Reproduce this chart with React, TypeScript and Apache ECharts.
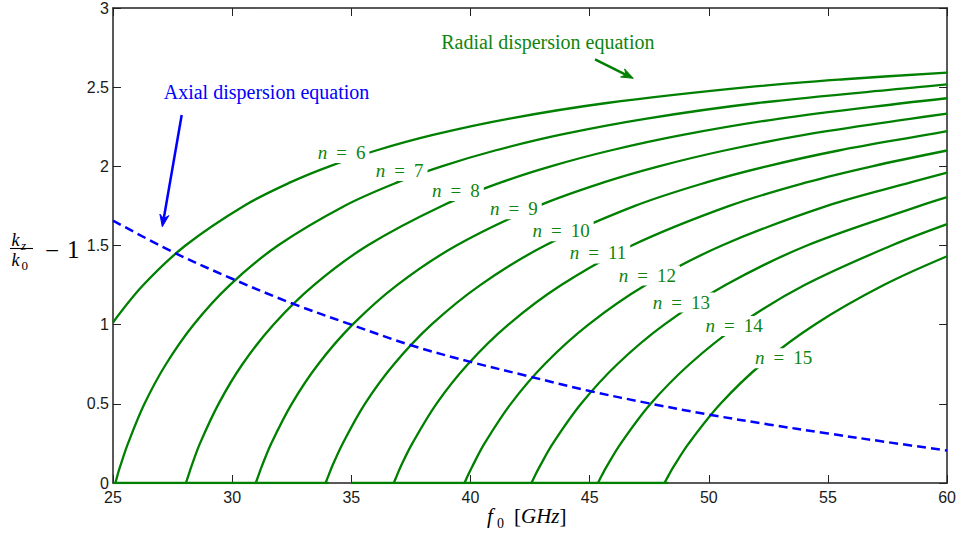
import React, { useEffect, useRef } from "react";
import * as echarts from "echarts";

// ---- axes ----
const xMin = 25;
const xMax = 60;
const xStep = 5;
const yMin = 0;
const yMax = 3;
const yStep = 0.5;

// ---- radial dispersion curves [f0 (GHz), kz/k0 - 1] ----
const n6 = [[25, 1.014], [26.27, 1.25], [28.04, 1.5], [30.49, 1.75], [32.46, 1.9], [34.08, 2.0], [36.04, 2.1], [38.47, 2.2], [41.58, 2.3], [45.72, 2.4], [51.63, 2.5], [55.69, 2.55], [60, 2.592]];
const n7 = [[25.1, 0], [25.19, 0.05], [25.29, 0.1], [25.63, 0.25], [26.32, 0.5], [27.22, 0.75], [28.38, 1], [29.9, 1.25], [31.92, 1.5], [34.71, 1.75], [36.95, 1.9], [38.79, 2], [41.03, 2.1], [43.79, 2.2], [47.33, 2.3], [52.05, 2.4], [58.77, 2.5], [60, 2.517]];
const n8 = [[28.06, 0], [28.17, 0.05], [28.28, 0.1], [28.65, 0.25], [29.43, 0.5], [30.43, 0.75], [31.73, 1], [33.43, 1.25], [35.68, 1.5], [38.8, 1.75], [41.31, 1.9], [43.37, 2], [45.87, 2.1], [48.96, 2.2], [52.91, 2.3], [58.19, 2.4], [60, 2.43]];
const n9 = [[30.99, 0], [31.11, 0.05], [31.23, 0.1], [31.64, 0.25], [32.5, 0.5], [33.61, 0.75], [35.05, 1], [36.92, 1.25], [39.41, 1.5], [42.85, 1.75], [45.62, 1.9], [47.9, 2], [50.66, 2.1], [54.07, 2.2], [58.44, 2.3], [60, 2.333]];
const n10 = [[33.92, 0], [34.05, 0.05], [34.18, 0.1], [34.64, 0.25], [35.57, 0.5], [36.79, 0.75], [38.36, 1], [40.41, 1.25], [43.13, 1.5], [46.9, 1.75], [49.93, 1.9], [52.43, 2], [55.45, 2.1], [59.18, 2.2], [60, 2.222]];
const n11 = [[36.78, 0], [36.92, 0.05], [37.06, 0.1], [37.56, 0.25], [38.57, 0.5], [39.89, 0.75], [41.59, 1], [43.81, 1.25], [46.77, 1.5], [50.86, 1.75], [54.14, 1.9], [56.85, 2], [60, 2.1]];
const n12 = [[39.75, 0], [39.9, 0.05], [40.06, 0.1], [40.59, 0.25], [41.69, 0.5], [43.11, 0.75], [44.95, 1], [47.35, 1.25], [50.55, 1.5], [54.96, 1.75], [58.51, 1.9], [60, 1.96]];
const n13 = [[42.56, 0], [42.72, 0.05], [42.89, 0.1], [43.46, 0.25], [44.64, 0.5], [46.16, 0.75], [48.13, 1], [50.7, 1.25], [54.12, 1.5], [58.85, 1.75], [60, 1.805]];
const n14 = [[45.35, 0], [45.52, 0.05], [45.7, 0.1], [46.31, 0.25], [47.56, 0.5], [49.19, 0.75], [51.28, 1], [54.02, 1.25], [57.67, 1.5], [60, 1.635]];
const n15 = [[48.14, 0], [48.32, 0.05], [48.51, 0.1], [49.16, 0.25], [50.49, 0.5], [52.21, 0.75], [54.44, 1], [57.34, 1.25], [60, 1.432]];
const radialCurves = [n6, n7, n8, n9, n10, n11, n12, n13, n14, n15];

// zero part of the modes below cut-off
const zeroLine = [[25, 0], [34.05, 0], [34.5, "-"], [35, 0], [48.3, 0]];

// ---- axial dispersion (blue dashed) ----
const axialF = [25, 27.5, 30, 32.5, 35, 37.5, 40, 42.5, 45, 47.5, 50, 52.5, 55, 57.5, 60];
const axialY = [1.657, 1.46, 1.29, 1.135, 1.0, 0.87, 0.765, 0.672, 0.581, 0.503, 0.432, 0.37, 0.313, 0.258, 0.205];

// ---- contour labels ----
const labelText = ["6", "7", "8", "9", "10", "11", "12", "13", "14", "15"];
const labelF = [34.59, 37.03, 39.39, 41.82, 43.8, 45.35, 47.42, 48.85, 51.06, 53.14];
const labelY = [2.085, 1.97, 1.845, 1.729, 1.59, 1.45, 1.31, 1.14, 0.991, 0.788];

const GREEN = "#008000";
const LABEL_GREEN = "#0f850f";
const BLUE = "#0000ff";
const SERIF = '"Liberation Serif", "Times New Roman", serif';
const SANS = '"Liberation Sans", Arial, sans-serif';
const AXIS_COLOR = "#222";

export default function App() {
  const ref = useRef<HTMLDivElement>(null);

  useEffect(() => {
    if (!ref.current) return;
    const chart = echarts.init(ref.current, undefined, { renderer: "svg" });

    const axisCommon = {
      type: "value" as const,
      min: xMin,
      max: xMax,
      interval: xStep,
      splitLine: { show: false },
      axisLine: { show: true, onZero: false, lineStyle: { color: AXIS_COLOR, width: 1.5 } },
      axisTick: { show: true, inside: true, length: 8, lineStyle: { color: AXIS_COLOR, width: 1 } },
    };
    const yCommon = {
      type: "value" as const,
      min: yMin,
      max: yMax,
      interval: yStep,
      splitLine: { show: false },
      axisLine: { show: true, onZero: false, lineStyle: { color: AXIS_COLOR, width: 1.5 } },
      axisTick: { show: true, inside: true, length: 8, lineStyle: { color: AXIS_COLOR, width: 1 } },
    };

    const curveSeries = radialCurves.map((d, i) => ({
      type: "line",
      name: "n" + (i + 6),
      data: d,
      smooth: 0.35,
      symbol: "none",
      showSymbol: false,
      lineStyle: { color: GREEN, width: 2.3 },
      z: 2,
      silent: true,
    }));

    const mathFont = (size: number, italic: boolean) =>
      `${italic ? "italic " : ""}${size}px ${SERIF}`;

    const txt = (text: string, x: number, y: number, font: string, fill: string, align = "left") => ({
      type: "text",
      x,
      y,
      silent: true,
      style: {
        text,
        font,
        fill,
        align,
        verticalAlign: "middle",
        textAlign: align,
        textVerticalAlign: "middle",
      },
    });

    chart.setOption({
      animation: false,
      backgroundColor: "#fff",
      grid: { left: 113, right: 10, top: 5, bottom: 54, containLabel: false },
      xAxis: [
        {
          ...axisCommon,
          position: "bottom",
          axisLabel: { show: true, fontFamily: SANS, fontSize: 16, color: "#1a1a1a", margin: 6 },
        },
        { ...axisCommon, position: "top", axisLabel: { show: false } },
      ],
      yAxis: [
        {
          ...yCommon,
          position: "left",
          axisLabel: { show: true, fontFamily: SANS, fontSize: 16, color: "#1a1a1a", margin: 4 },
        },
        { ...yCommon, position: "right", axisLabel: { show: false } },
      ],
      series: [
        {
          type: "line",
          name: "zero",
          data: zeroLine,
          symbol: "none",
          lineStyle: { color: GREEN, width: 2.3 },
          connectNulls: false,
          z: 2,
          silent: true,
        },
        ...curveSeries,
        {
          type: "line",
          name: "axial",
          data: axialF.map((f, i) => [f, axialY[i]]),
          smooth: 0.35,
          symbol: "none",
          lineStyle: { color: BLUE, width: 2.5, type: [9, 5] },
          z: 3,
          silent: true,
        },
        {
          type: "scatter",
          name: "labels",
          data: labelF.map((f, i) => [f, labelY[i], labelText[i]]),
          symbolSize: 1,
          itemStyle: { color: "rgba(0,0,0,0)", opacity: 1 },
          z: 10,
          silent: true,
          label: {
            show: true,
            position: "inside",
            backgroundColor: "#ffffff",
            opacity: 1,
            padding: [1, 4, 2, 4],
            lineHeight: 17,
            formatter: (p: any) => `{i|n}{e|=}{r|${p.value[2]}}`,
            rich: {
              i: { fontFamily: SERIF, fontStyle: "italic", fontSize: 19, lineHeight: 17, color: LABEL_GREEN },
              e: { fontFamily: SERIF, fontSize: 19, lineHeight: 17, color: LABEL_GREEN, padding: [0, 9, 0, 9] },
              r: { fontFamily: SERIF, fontSize: 19, lineHeight: 17, color: LABEL_GREEN },
            },
          },
        },
      ],
      graphic: [
        // blue arrow
        { type: "polyline", silent: true, shape: { points: [[181.7, 115], [163.7, 218.8]] }, style: { stroke: BLUE, lineWidth: 2.5, fill: null } },
        { type: "polygon", silent: true, shape: { points: [[162.3, 226.7], [168.8, 215.6], [163.7, 218.8], [159.9, 214.1]] }, style: { fill: BLUE, stroke: BLUE, lineWidth: 1 } },
        // green arrow
        { type: "polyline", silent: true, shape: { points: [[595, 59.3], [626.1, 74.8]] }, style: { stroke: GREEN, lineWidth: 2.5, fill: null } },
        { type: "polygon", silent: true, shape: { points: [[633.3, 78.3], [620.6, 77.0], [626.1, 74.8], [624.6, 68.9]] }, style: { fill: GREEN, stroke: GREEN, lineWidth: 1 } },
        // annotations
        txt("Axial dispersion equation", 266.5, 92, `20px ${SERIF}`, BLUE, "center"),
        txt("Radial dispersion equation", 547.8, 41.6, `20px ${SERIF}`, LABEL_GREEN, "center"),
        // y-axis name: kz/k0 - 1
        txt("k", 11.5, 240, mathFont(18, true), "#000"),
        txt("z", 21, 245.5, mathFont(13, true), "#000"),
        { type: "line", silent: true, shape: { x1: 10, y1: 248.5, x2: 33, y2: 248.5 }, style: { stroke: "#000", lineWidth: 1.1 } },
        txt("k", 11.5, 260, mathFont(18, true), "#000"),
        txt("0", 21.5, 265.5, mathFont(13, false), "#000"),
        txt("\u2212", 45, 250, mathFont(25, false), "#000"),
        txt("1", 67, 249, mathFont(25, false), "#000"),
        // x-axis name: f0 [GHz]
        txt("f", 487, 515.9, mathFont(21, true), "#000"),
        txt("0", 497, 523, mathFont(14, false), "#000"),
        {
          type: "text",
          x: 514,
          y: 515.9,
          silent: true,
          style: {
            text: "{b|[}{i|GHz}{b|]}",
            verticalAlign: "middle",
            textVerticalAlign: "middle",
            rich: {
              b: { fontFamily: SERIF, fontSize: 21, fill: "#000", color: "#000" },
              i: { fontFamily: SERIF, fontSize: 21, fontStyle: "italic", fill: "#000", color: "#000" },
            },
          },
        },
      ],
    });

    return () => chart.dispose();
  }, []);

  return (
    <div
      ref={ref}
      style={{ position: "absolute", left: 0, top: 0, width: 959, height: 537, background: "#fff" }}
    />
  );
}
